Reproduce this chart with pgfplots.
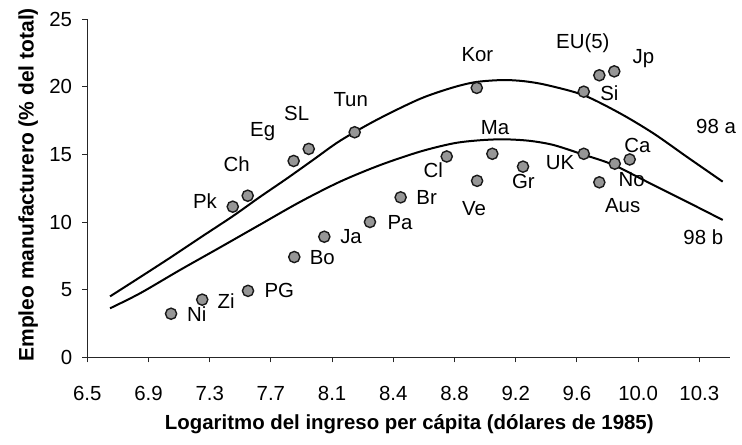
\documentclass[border=0pt]{standalone}
\usepackage{fontspec}
\setmainfont{Liberation Sans}
\usepackage{pgfplots}
\pgfplotsset{compat=1.18}
\definecolor{mkgray}{RGB}{150,150,150}
\newcommand{\fs}{\fontsize{20.4bp}{24bp}\selectfont}
\begin{document}
\fs
\begin{tikzpicture}[every node/.style={font=\fs}]
\begin{axis}[
  scale only axis,
  width=642.7bp, height=338.3bp,
  xmin=6.5, xmax=10.543, ymin=0, ymax=25,
  axis lines=left,
  axis line style={-, black!85, line width=0.9bp},
  tick align=outside,
  major tick length=5bp,
  tick style={black!85, line width=0.9bp},
  xtick={6.5,6.885,7.27,7.655,8.04,8.425,8.81,9.195,9.58,9.965,10.35},
  xticklabels={6.5,6.9,7.3,7.7,8.1,8.4,8.8,9.2,9.6,10.0,10.3},
  ytick={0,5,10,15,20,25},
  /pgf/number format/assume math mode=true,
  xticklabel style={anchor=base, inner sep=0pt, yshift=-38bp, font=\fs},
  yticklabel style={anchor=east, inner sep=0pt, xshift=-10bp, font=\fs},
  xlabel={Logaritmo del ingreso per cápita (dólares de 1985)},
  ylabel={Empleo manufacturero (\% del total)},
  xlabel style={at={(axis description cs:0.501,-0.212)}, anchor=base, inner sep=0pt, font=\bfseries\fs},
  ylabel style={at={(axis description cs:-0.0918,0.51)}, anchor=center, rotate=0, inner sep=0pt, font=\bfseries\fontsize{21bp}{25bp}\selectfont},
  clip=false,
]
% curve 98 a
\addplot[black, line width=2bp, smooth, no marks] coordinates {
(6.643,4.50) (6.832,5.92) (7.020,7.35) (7.209,8.83) (7.418,10.45) (7.586,11.85)
(7.754,13.20) (7.922,14.60) (8.090,16.00) (8.321,17.55) (8.593,19.10) (8.803,19.95)
(8.950,20.35) (9.117,20.49) (9.250,20.40) (9.390,20.12) (9.620,19.38) (9.851,18.03)
(10.061,16.55) (10.271,14.82) (10.497,12.98)
};
% curve 98 b
\addplot[black, line width=2bp, smooth, no marks] coordinates {
(6.643,3.62) (6.832,4.73) (7.083,6.45) (7.335,8.12) (7.586,9.80) (7.838,11.48)
(8.090,12.98) (8.341,14.20) (8.593,15.20) (8.803,15.81) (8.960,16.03) (9.117,16.11)
(9.280,16.00) (9.432,15.69) (9.620,14.98) (9.809,14.22) (10.061,12.73) (10.271,11.50) (10.497,10.15)
};
% countries
\addplot[only marks, mark=*, mark size=5.6bp, mark options={fill=mkgray, draw=black!90, line width=1.4bp}] coordinates {
(7.027,3.22) (7.223,4.26) (7.511,4.91) (7.802,7.41) (7.991,8.91) (8.278,10.0)
(8.471,11.82) (7.415,11.13) (7.509,11.94) (7.798,14.51) (7.893,15.40) (8.182,16.63)
(8.761,14.84) (8.950,19.91) (8.952,13.04) (9.048,15.04) (9.241,14.09) (9.623,19.63)
(9.623,15.04) (9.721,20.84) (9.721,12.93) (9.815,21.13) (9.818,14.31) (9.912,14.62)
};
% labels
\node at (axis cs:7.240,11.57) {Pk};
\node at (axis cs:7.440,14.28) {Ch};
\node at (axis cs:7.603,16.67) {Eg};
\node at (axis cs:7.817,18.03) {SL};
\node at (axis cs:8.157,19.01) {Tun};
\node at (axis cs:8.954,22.34) {Kor};
\node at (axis cs:9.617,23.20) {EU(5)};
\node at (axis cs:9.998,22.10) {Jp};
\node at (axis cs:9.784,19.55) {Si};
\node at (axis cs:10.455,17.04) {98 a};
\node at (axis cs:9.065,16.97) {Ma};
\node at (axis cs:8.677,13.84) {Cl};
\node at (axis cs:8.933,11.01) {Ve};
\node at (axis cs:9.243,12.98) {Gr};
\node at (axis cs:9.474,14.41) {UK};
\node at (axis cs:9.960,15.64) {Ca};
\node at (axis cs:9.925,13.10) {No};
\node at (axis cs:9.868,11.18) {Aus};
\node at (axis cs:10.375,8.84) {98 b};
\node at (axis cs:8.635,11.82) {Br};
\node at (axis cs:8.467,9.98) {Pa};
\node at (axis cs:8.159,8.91) {Ja};
\node at (axis cs:7.978,7.39) {Bo};
\node at (axis cs:7.708,4.92) {PG};
\node at (axis cs:7.373,4.18) {Zi};
\node at (axis cs:7.188,3.20) {Ni};
\end{axis}
\pgfresetboundingbox
\path (-87.3bp,-87.7bp) rectangle (654.7bp,357.3bp);
\end{tikzpicture}
\end{document}
